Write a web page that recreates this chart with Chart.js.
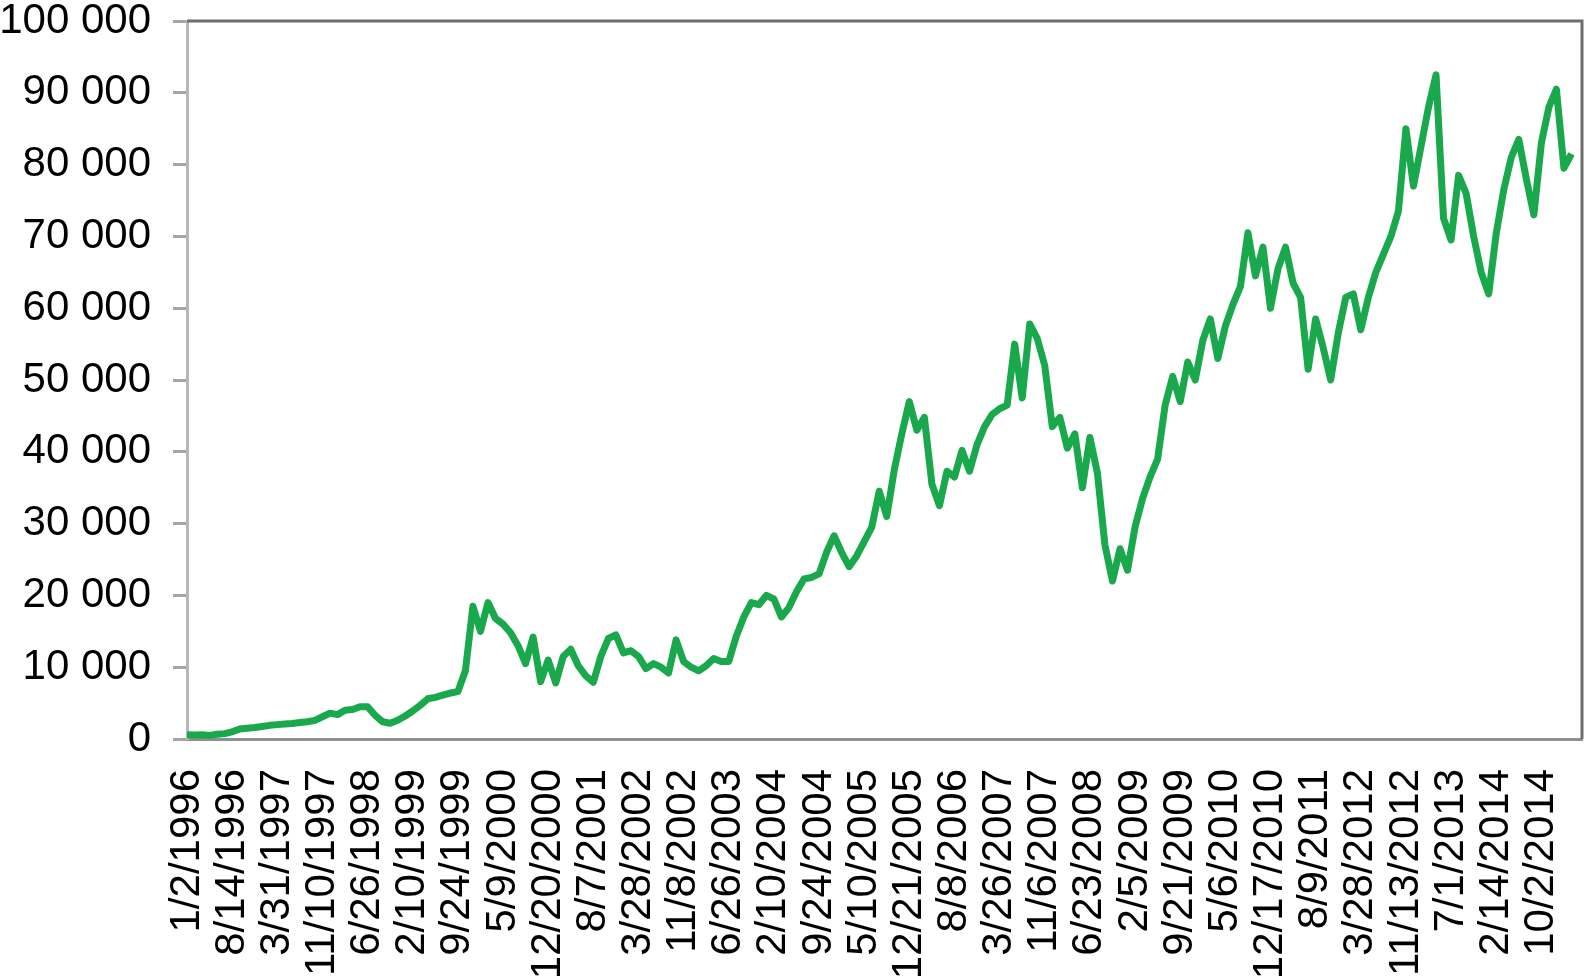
<!DOCTYPE html>
<html>
<head>
<meta charset="utf-8">
<script src="https://cdn.jsdelivr.net/npm/chart.js@4"></script>
<style>
  html, body { margin: 0; padding: 0; background: #fff; overflow: hidden; }
</style>
</head>
<body>
<canvas id="indexChart" width="1588" height="976"></canvas>
<script>
// Tick labels on the date axis, one every 6 samples
const dateLabels = [
    '1/2/1996', '8/14/1996', '3/31/1997', '11/10/1997', '6/26/1998', '2/10/1999',
    '9/24/1999', '5/9/2000', '12/20/2000', '8/7/2001', '3/28/2002', '11/8/2002',
    '6/26/2003', '2/10/2004', '9/24/2004', '5/10/2005', '12/21/2005', '8/8/2006',
    '3/26/2007', '11/6/2007', '6/23/2008', '2/5/2009', '9/21/2009', '5/6/2010',
    '12/17/2010', '8/9/2011', '3/28/2012', '11/13/2012', '7/1/2013', '2/14/2014',
    '10/2/2014'
];
const samplesPerLabel = 6;

// Index level, 6 samples between two date labels
const indexValues = [
    600, 550, 600, 500, 650, 750,
    1000, 1400, 1500, 1600, 1750, 1900,
    2000, 2100, 2150, 2300, 2400, 2600,
    3100, 3600, 3400, 4000, 4100, 4500,
    4500, 3300, 2400, 2200, 2600, 3200,
    3900, 4700, 5600, 5800, 6100, 6400,
    6600, 9500, 18500, 15000, 19000, 16800,
    16000, 14800, 13000, 10500, 14200, 8000,
    11000, 7800, 11500, 12500, 10200, 8800,
    7900, 11500, 14000, 14500, 12000, 12300,
    11500, 9800, 10500, 10000, 9200, 13800,
    10800, 10000, 9500, 10200, 11200, 10800,
    10800, 14300, 17000, 19000, 18700, 20000,
    19500, 17000, 18300, 20500, 22300, 22500,
    23000, 26000, 28300, 26000, 24000, 25500,
    27500, 29500, 34500, 31000, 37500, 42500,
    47000, 43000, 44800, 35500, 32500, 37300,
    36500, 40200, 37300, 41000, 43500, 45200,
    46000, 46500, 55000, 47500, 57800, 55800,
    52000, 43500, 44800, 40500, 42500, 35000,
    42000, 37000, 27000, 22000, 26500, 23500,
    29500, 33500, 36500, 39000, 46500, 50500,
    47000, 52500, 50000, 55500, 58500, 53000,
    57500, 60500, 63000, 70500, 64500, 68500,
    60000, 65500, 68500, 63500, 61500, 51500,
    58500, 54500, 50000, 56500, 61500, 62000,
    57000, 61500, 65000, 67500, 70000, 73500,
    85000, 77000, 82500, 88000, 92500, 72500,
    69500, 78500, 76000, 70000, 65000, 62000,
    70400, 76500, 81000, 83500, 78000, 73000,
    83000, 88000, 90500, 79500, 81500
];

const yTicks = { min: 0, max: 100000, step: 10000 };

const points = indexValues.map((v, i) => ({ x: i / samplesPerLabel, y: v }));

// top and right edges of the plot box
const frame = {
    id: 'frame',
    afterDraw(chart) {
        const { ctx, chartArea: a } = chart;
        ctx.save();
        ctx.strokeStyle = '#6e6e6e';
        ctx.lineWidth = 3;
        ctx.beginPath();
        ctx.moveTo(a.left, a.top);
        ctx.lineTo(a.right, a.top);
        ctx.lineTo(a.right, a.bottom);
        ctx.stroke();
        ctx.restore();
    }
};

const font = { family: "'Liberation Sans', Arial, sans-serif", size: 42 };

new Chart(document.getElementById('indexChart').getContext('2d'), {
    type: 'line',
    data: {
        datasets: [{
            data: points,
            borderColor: '#1aa84c',
            borderWidth: 7,
            borderJoinStyle: 'round',
            pointRadius: 0,
            tension: 0
        }]
    },
    options: {
        responsive: false,
        animation: false,
        layout: { padding: { left: 0, right: 6, top: 21, bottom: 0 } },
        plugins: {
            legend: { display: false },
            tooltip: { enabled: false }
        },
        scales: {
            x: {
                type: 'linear',
                min: 0,
                max: 30.9,
                grid: { display: false, drawTicks: false },
                border: { display: true, color: '#8f8f8f', width: 3 },
                ticks: {
                    stepSize: 1,
                    autoSkip: false,
                    includeBounds: false,
                    minRotation: 90,
                    maxRotation: 90,
                    padding: 30,
                    color: '#000',
                    font: font,
                    callback: (value) => Number.isInteger(value) ? dateLabels[value] : ''
                },
                afterFit: (scale) => {
                    scale.height = 237;
                    scale.paddingLeft = 0;
                    scale.paddingRight = 0;
                }
            },
            y: {
                min: yTicks.min,
                max: yTicks.max,
                grid: {
                    drawOnChartArea: false,
                    drawTicks: true,
                    tickLength: 14,
                    tickWidth: 3,
                    tickColor: '#a5a5a5'
                },
                border: { display: true, color: '#b8b8b8', width: 3 },
                ticks: {
                    stepSize: yTicks.step,
                    padding: 22,
                    color: '#000',
                    font: { ...font, lineHeight: 1.0 },
                    callback: (value) => value.toString().replace(/\B(?=(\d{3})+(?!\d))/g, ' ')
                },
                afterFit: (scale) => {
                    scale.width = 187;
                    scale.paddingTop = 0;
                    scale.paddingBottom = 0;
                }
            }
        }
    },
    plugins: [frame]
});
</script>
</body>
</html>
